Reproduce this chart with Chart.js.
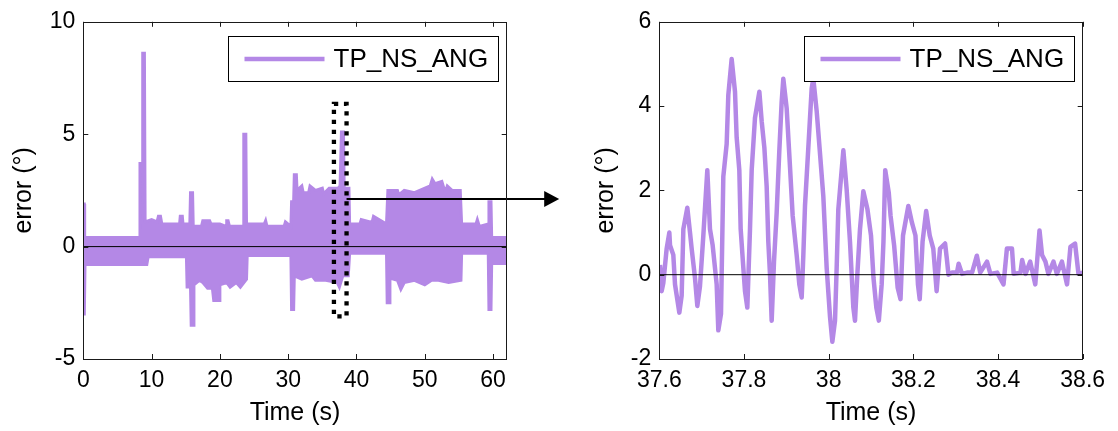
<!DOCTYPE html>
<html>
<head>
<meta charset="utf-8">
<script src="https://cdn.jsdelivr.net/npm/chart.js@4.4.1/dist/chart.umd.min.js"></script>
<style>
    body { margin: 0; background: #fff; width: 1118px; height: 431px; position: relative; overflow: hidden; }
    canvas { position: absolute; top: 0; }
    #leftChart { left: 0; }
    #rightChart { left: 559px; }
</style>
</head>
<body>
<canvas id="leftChart" width="562" height="431"></canvas>
<canvas id="rightChart" width="559" height="431"></canvas>
<script>
// Series name and axis text
const seriesName = "TP_NS_ANG";
const xTitle = "Time (s)";
const yTitle = "error (°)";

// Left plot: full run, drawn as an upper and lower envelope of the dense trace
const leftXTicks = [0, 10, 20, 30, 40, 50, 60];
const leftYTicks = [-5, 0, 5, 10];
const bandUpperT = [0, 0.15, 0.2, 8.2, 8.3, 8.6, 8.7, 8.95, 9.05, 10, 10.8, 11.0, 11.3, 11.5, 12, 14.1, 14.2, 14.5, 14.6, 15.6, 15.7, 16.0, 16.1, 17.3, 17.5, 18.5, 18.7, 20, 20.9, 21.0, 21.2, 21.4, 23.4, 23.5, 23.8, 23.9, 26, 26.5, 26.7, 26.9, 28, 29.4, 29.6, 30.0, 30.4, 30.5, 30.8, 30.9, 31.2, 31.3, 32.0, 32.2, 33.0, 33.2, 34, 35.0, 35.2, 36.0, 37.3, 37.6, 37.8, 38.1, 38.2, 38.9, 39.0, 40.5, 40.7, 42, 42.3, 42.5, 44.4, 44.6, 46.0, 46.2, 47, 48.5, 50.8, 51.1, 51.5, 52.5, 53.0, 53.3, 54.0, 55.2, 55.4, 57.5, 57.7, 58, 59.3, 59.4, 59.7, 59.8, 62];
const bandUpperV = [1.9, 1.9, 0.4, 0.4, 3.7, 3.7, 8.6, 8.6, 1.1, 1.2, 1.1, 1.35, 1.35, 1.0, 1.0, 1.0, 1.35, 1.35, 1.0, 1.0, 2.4, 2.4, 0.9, 0.9, 1.15, 1.15, 1.0, 1.0, 0.9, 1.15, 1.15, 0.9, 0.9, 5.0, 5.0, 1.0, 1.0, 1.0, 1.15, 0.9, 0.9, 0.9, 1.1, 1.0, 0.9, 2.0, 2.0, 3.2, 3.2, 2.5, 2.7, 2.4, 2.4, 2.7, 2.5, 2.6, 2.35, 2.6, 2.6, 2.7, 5.1, 5.1, 2.6, 2.6, 1.0, 1.0, 1.2, 1.1, 1.1, 1.35, 1.0, 2.5, 2.5, 2.3, 2.5, 2.4, 2.7, 3.0, 2.8, 2.9, 2.4, 2.7, 2.5, 2.5, 1.0, 1.0, 1.2, 0.9, 1.0, 2.0, 2.0, 0.4, 0.4];
const bandLowerT = [0, 0.15, 0.25, 8.8, 9.3, 9.5, 15.1, 15.2, 15.7, 15.8, 16.1, 16.2, 17.0, 17.5, 18.2, 18.9, 19.1, 19.9, 20.0, 21.0, 21.5, 22.4, 23.0, 23.9, 24.0, 30.4, 30.5, 30.8, 30.9, 32.0, 33.5, 34, 35.5, 37.2, 37.5, 38.0, 38.8, 39.0, 44.4, 44.5, 44.8, 44.9, 46.0, 46.5, 47, 48.5, 50, 51.0, 52, 53.5, 55.3, 55.4, 59.3, 59.4, 59.7, 59.8, 62];
const bandLowerV = [-3.0, -3.0, -0.8, -0.8, -0.8, -0.45, -0.45, -1.8, -1.8, -3.5, -3.5, -1.7, -1.5, -1.6, -1.85, -1.85, -2.4, -2.4, -1.7, -1.6, -1.8, -1.6, -1.8, -1.45, -0.4, -0.4, -2.8, -2.8, -1.3, -1.45, -1.3, -1.5, -1.5, -1.6, -1.8, -1.3, -1.3, -0.3, -0.3, -2.5, -2.5, -1.4, -1.5, -1.9, -1.6, -1.5, -1.7, -1.5, -1.5, -1.6, -1.5, -0.3, -0.3, -2.8, -2.8, -0.75, -0.75];

// Right plot: zoom on 37.6 s .. 38.6 s
const rightXTicks = [37.6, 37.8, 38.0, 38.2, 38.4, 38.6];
const rightYTicks = [-2, 0, 2, 4, 6];
const zoomTime = [37.6017, 37.6056, 37.6095, 37.6174, 37.6237, 37.6253, 37.6331, 37.6371, 37.6473, 37.6528, 37.6568, 37.6662, 37.6725, 37.6764, 37.6843, 37.6898, 37.6961, 37.7040, 37.7134, 37.7197, 37.7260, 37.7355, 37.7394, 37.7457, 37.7512, 37.7591, 37.7630, 37.7709, 37.7788, 37.7827, 37.7890, 37.7922, 37.7985, 37.8024, 37.8079, 37.8142, 37.8182, 37.8260, 37.8363, 37.8418, 37.8481, 37.8536, 37.8575, 37.8615, 37.8654, 37.8709, 37.8772, 37.8835, 37.8890, 37.8929, 37.9008, 37.9087, 37.9150, 37.9244, 37.9307, 37.9363, 37.9402, 37.9441, 37.9520, 37.9599, 37.9638, 37.9717, 37.9796, 37.9874, 37.9953, 38.0032, 38.0087, 38.0150, 38.0189, 38.0228, 38.0307, 38.0347, 38.0425, 38.0504, 38.0583, 38.0622, 38.0677, 38.0740, 38.0819, 38.0916, 38.1000, 38.1059, 38.1126, 38.1185, 38.1252, 38.1294, 38.1336, 38.1420, 38.1462, 38.1546, 38.1630, 38.1697, 38.1756, 38.1882, 38.1966, 38.2050, 38.2109, 38.2151, 38.2218, 38.2303, 38.2387, 38.2471, 38.2550, 38.2630, 38.2750, 38.2790, 38.2830, 38.2910, 38.3030, 38.3070, 38.3150, 38.3270, 38.3390, 38.3500, 38.3580, 38.3740, 38.3820, 38.3980, 38.4130, 38.4210, 38.4330, 38.4370, 38.4530, 38.4570, 38.4650, 38.4760, 38.4880, 38.4980, 38.5040, 38.5120, 38.5190, 38.5310, 38.5390, 38.5510, 38.5630, 38.5710, 38.5820, 38.5900, 38.6000];
const zoomError = [0.23, -0.39, -0.2, 0.62, 1.0, 0.7, 0.47, -0.23, -0.9, -0.5, 1.08, 1.59, 1.0, 0.62, -0.08, -0.74, -0.27, 0.93, 2.48, 1.08, 0.7, -0.23, -1.32, -0.93, 2.33, 3.1, 4.26, 5.12, 4.34, 3.26, 2.48, 1.08, 0.16, -0.39, -0.78, 1.08, 2.48, 3.72, 4.34, 3.64, 3.02, 2.09, 0.78, 0, -1.09, 0.31, 1.47, 2.95, 4.1, 4.65, 3.95, 2.56, 1.4, 0.47, -0.23, -0.54, 0.47, 1.63, 3.02, 4.42, 4.65, 3.88, 2.87, 1.86, 0.16, -1.0, -1.59, -1.09, 0.16, 1.55, 2.48, 2.95, 2.02, 0.78, -0.78, -1.09, 0, 1.08, 1.98, 1.55, 0.93, -0.08, -0.78, -1.09, -0.23, 0.78, 2.48, 1.94, 1.4, 0.7, -0.31, -0.58, 0.93, 1.63, 1.24, 0.93, -0.23, -0.58, 0.78, 1.51, 0.93, 0.62, -0.39, 0.62, 0.74, 0.39, 0.0, 0.05, 0.05, 0.26, 0.02, 0.05, 0.06, 0.45, 0.05, 0.31, 0.02, 0.05, -0.23, 0.62, 0.62, 0.02, 0.05, 0.35, 0.02, 0.31, -0.23, 1.05, 0.47, 0.31, 0.02, 0.31, 0.02, 0.31, -0.23, 0.66, 0.74, 0.02, 0.05];

// Highlighted window on the left plot (axis units)
const zoomWindow = { x0: 36.7, x1: 38.55, y0: -3.1, y1: 6.35, arrowY: 2.12 };

const purple = "rgb(180, 136, 230)";
const fontFamily = "'Liberation Sans', Arial, Helvetica, sans-serif";

const toPoints = (xs, ys) => xs.map((x, i) => ({ x: x, y: ys[i] }));

// MATLAB-like frame: box, inward ticks on all sides, legend box
const framePlugin = {
    id: "frame",
    afterDraw(chart, args, opts) {
        const ctx = chart.ctx;
        const { left, right, top, bottom } = chart.chartArea;
        const xs = chart.scales.x, ys = chart.scales.y;

        // dotted window + arrow (left plot only)
        if (opts.window) {
            const w = opts.window;
            const x0 = xs.getPixelForValue(w.x0), x1 = xs.getPixelForValue(w.x1);
            const y0 = ys.getPixelForValue(w.y0), y1 = ys.getPixelForValue(w.y1);
            ctx.save();
            ctx.strokeStyle = "#000";
            ctx.lineWidth = 4.3;
            ctx.setLineDash([4.3, 5.7]);
            ctx.strokeRect(x0, y1, x1 - x0, y0 - y1);
            ctx.setLineDash([]);
            const ay = ys.getPixelForValue(w.arrowY);
            const tip = right + 52.5;
            ctx.lineWidth = 2;
            ctx.beginPath();
            ctx.moveTo(x1, ay);
            ctx.lineTo(tip - 12, ay);
            ctx.stroke();
            ctx.fillStyle = "#000";
            ctx.beginPath();
            ctx.moveTo(tip, ay);
            ctx.lineTo(tip - 15, ay - 8);
            ctx.lineTo(tip - 15, ay + 8);
            ctx.closePath();
            ctx.fill();
            ctx.restore();
        }

        ctx.save();
        ctx.strokeStyle = "#1a1a1a";
        ctx.lineWidth = 1;
        ctx.strokeRect(Math.round(left) + 0.5, Math.round(top) + 0.5, Math.round(right - left), Math.round(bottom - top));
        ctx.beginPath();
        xs.ticks.forEach(t => {
            const px = Math.round(xs.getPixelForValue(t.value)) + 0.5;
            ctx.moveTo(px, bottom); ctx.lineTo(px, bottom - 5);
            ctx.moveTo(px, top); ctx.lineTo(px, top + 5);
        });
        ys.ticks.forEach(t => {
            const py = Math.round(ys.getPixelForValue(t.value)) + 0.5;
            ctx.moveTo(left, py); ctx.lineTo(left + 5, py);
            ctx.moveTo(right, py); ctx.lineTo(right - 5, py);
        });
        ctx.stroke();

        // legend
        const bw = 270, bh = 45;
        const bx = Math.round(right - 9 - bw) + 0.5, by = Math.round(top + 14) + 0.5;
        ctx.fillStyle = "#fff";
        ctx.fillRect(bx, by, bw, bh);
        ctx.strokeStyle = "#000";
        ctx.strokeRect(bx, by, bw, bh);
        const cy = by + bh / 2;
        ctx.strokeStyle = purple;
        ctx.lineWidth = 4.5;
        ctx.beginPath();
        ctx.moveTo(bx + 16, cy); ctx.lineTo(bx + 96, cy);
        ctx.stroke();
        ctx.fillStyle = "#000";
        ctx.font = "26px " + fontFamily;
        ctx.textBaseline = "middle";
        ctx.textAlign = "left";
        ctx.fillText(chart.data.datasets.find(d => d.inLegend).label, bx + 105, cy + 1);
        ctx.restore();
    }
};

function makeScales(xMin, xMax, xTicks, yMin, yMax, yTicks, yWidth, yTitlePad) {
    return {
        x: {
            type: "linear", min: xMin, max: xMax,
            afterBuildTicks: s => { s.ticks = xTicks.map(v => ({ value: v })); },
            afterFit: s => { s.height = 72; },
            grid: { display: false, drawTicks: false },
            border: { display: false },
            ticks: {
                padding: 8, color: "#000", maxRotation: 0, autoSkip: false,
                font: { family: fontFamily, size: 23 },
                callback: v => String(+v.toFixed(1))
            },
            title: { display: true, text: xTitle, color: "#000", padding: { top: 0, bottom: 3 }, font: { family: fontFamily, size: 25 } }
        },
        y: {
            type: "linear", min: yMin, max: yMax,
            afterBuildTicks: s => { s.ticks = yTicks.map(v => ({ value: v })); },
            afterFit: s => { s.width = yWidth; },
            grid: { display: false, drawTicks: false },
            border: { display: false },
            ticks: {
                padding: 8, color: "#000", autoSkip: false,
                font: { family: fontFamily, size: 23 }
            },
            title: { display: true, text: yTitle, color: "#000", padding: { top: yTitlePad, bottom: 0 }, font: { family: fontFamily, size: 25 } }
        }
    };
}

const commonPlugins = { legend: { display: false }, tooltip: { enabled: false } };

new Chart(document.getElementById("leftChart"), {
    type: "line",
    data: {
        datasets: [
            {
                label: "zero", order: 0,
                data: toPoints([0, 62], [0, 0]),
                borderColor: "#000", borderWidth: 1, pointRadius: 0, fill: false
            },
            {
                label: seriesName, inLegend: true, order: 1,
                data: toPoints(bandUpperT, bandUpperV),
                borderColor: purple, backgroundColor: purple, borderWidth: 3,
                pointRadius: 0, tension: 0, fill: "+1"
            },
            {
                label: seriesName + " (lower)", order: 1,
                data: toPoints(bandLowerT, bandLowerV),
                borderColor: purple, borderWidth: 3, pointRadius: 0, tension: 0, fill: false
            }
        ]
    },
    options: {
        responsive: false, animation: false,
        layout: { padding: { top: 15, right: 55.3, bottom: 0, left: 0 } },
        scales: makeScales(0, 62, leftXTicks, -5, 10, leftYTicks, 83.3, 9),
        plugins: Object.assign({ frame: { window: zoomWindow } }, commonPlugins)
    },
    plugins: [framePlugin]
});

new Chart(document.getElementById("rightChart"), {
    type: "line",
    data: {
        datasets: [
            {
                label: "zero", order: 0,
                data: toPoints([37.6, 38.6], [0, 0]),
                borderColor: "#000", borderWidth: 1, pointRadius: 0, fill: false
            },
            {
                label: seriesName, inLegend: true, order: 1,
                data: toPoints(zoomTime, zoomError),
                borderColor: purple, borderWidth: 4.5, pointRadius: 0, tension: 0, fill: false,
                borderJoinStyle: "round"
            }
        ]
    },
    options: {
        responsive: false, animation: false,
        layout: { padding: { top: 15, right: 35.3, bottom: 0, left: 0 } },
        scales: makeScales(37.6, 38.6, rightXTicks, -2, 6, rightYTicks, 100.3, 32),
        plugins: Object.assign({ frame: {} }, commonPlugins)
    },
    plugins: [framePlugin]
});
</script>
</body>
</html>
